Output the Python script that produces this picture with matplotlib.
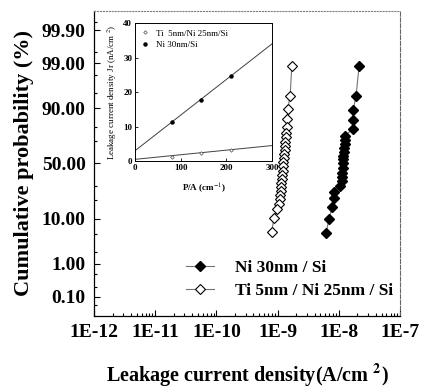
import numpy as np
import matplotlib
matplotlib.use('Agg')
import matplotlib.pyplot as plt
from statistics import NormalDist

plt.rcParams['font.family'] = 'Liberation Serif'
plt.rcParams['mathtext.fontset'] = 'stix'

# main plot data
ni_j = [2.14e-8, 1.91e-8, 1.71e-8, 1.71e-8, 1.70e-8, 1.27e-8, 1.26e-8, 1.25e-8,
        1.23e-8, 1.21e-8, 1.19e-8, 1.18e-8, 1.17e-8, 1.16e-8, 1.14e-8, 1.13e-8,
        1.12e-8, 1.05e-8, 8.35e-9, 8.3e-9, 7.75e-9, 6.92e-9, 6.18e-9]
ni_p = [98.8, 94.2, 89.2, 84.1, 79.0, 73.9, 70.8, 67.4, 63.9, 60.3, 56.6, 53.8,
        50.0, 45.3, 41.5, 37.9, 34.3, 30.1, 25.3, 21.0, 15.4, 10.0, 5.3]

ti_j = [1.70e-9, 1.60e-9, 1.46e-9, 1.43e-9, 1.41e-9, 1.37e-9, 1.36e-9, 1.34e-9,
        1.32e-9, 1.31e-9, 1.29e-9, 1.26e-9, 1.24e-9, 1.22e-9, 1.21e-9, 1.19e-9,
        1.18e-9, 1.15e-9, 1.14e-9, 1.12e-9, 1.09e-9, 1.08e-9, 1.04e-9, 9.8e-10,
        8.7e-10, 8.0e-10]
ti_p = [98.8, 94.2, 89.6, 84.6, 80.4, 76.2, 73.2, 69.1, 65.7, 62.1, 58.5, 54.7,
        51.0, 47.2, 43.4, 39.7, 36.1, 32.6, 29.2, 26.1, 23.1, 20.3, 17.1, 14.3,
        10.4, 5.6]

prob_ticks = [0.10, 1.00, 10.00, 50.00, 90.00, 99.00, 99.90]
prob_minor = [0.05, 0.2, 0.5, 2, 5, 20, 30, 70, 80, 95, 98, 99.5, 99.95]
x_ticks = [1e-12, 1e-11, 1e-10, 1e-9, 1e-8, 1e-7]
x_ticklabels = ['1E-12', '1E-11', '1E-10', '1E-9', '1E-8', '1E-7']

# inset data
pa = [80, 145, 210]
ni_jr = [11.2, 17.8, 24.6]
ti_jr = [1.3, 2.3, 3.2]
fit_pa = [0, 300]
ni_fit = [3.0, 34.0]
ti_fit = [0.5, 4.5]

nd = NormalDist()
inv_cdf = np.vectorize(lambda p: nd.inv_cdf(min(max(p / 100.0, 1e-9), 1 - 1e-9)))
cdf = np.vectorize(lambda z: 100.0 * nd.cdf(z))

fig = plt.figure(figsize=(4.22, 3.90), dpi=100)
ax = fig.add_axes([0.223, 0.190, 0.725, 0.782])
ax.set_xscale('log')
ax.set_yscale('function', functions=(inv_cdf, cdf))

ax.plot(ni_j, ni_p, color='0.45', lw=0.8, marker='D', ms=4.8, mfc='black',
        mec='black', label='Ni 30nm / Si')
ax.plot(ti_j, ti_p, color='0.45', lw=0.8, marker='D', ms=4.8, mfc='white',
        mec='black', mew=0.8, label='Ti 5nm / Ni 25nm / Si')

ax.set_xlim(1e-12, 1e-7)
ax.set_ylim(0.02, 99.98)
ax.set_yticks(prob_ticks)
ax.set_yticklabels(['%.2f' % p for p in prob_ticks])
ax.set_yticks(prob_minor, minor=True)
ax.set_xticks(x_ticks)
ax.set_xticklabels(x_ticklabels)
ax.tick_params(which='both', direction='in', labelsize=14, width=0.8)
ax.tick_params(which='major', length=4, pad=6)
ax.tick_params(which='minor', length=2.5)
ax.tick_params(axis='y', which='minor', labelleft=False)
for lab in ax.get_xticklabels() + ax.get_yticklabels():
    lab.set_fontweight('bold')

ax.spines['top'].set_linestyle(':')
ax.spines['top'].set_color('0.5')
ax.spines['right'].set_linestyle('--')
ax.spines['right'].set_color('0.4')
for s in ['left', 'bottom']:
    ax.spines[s].set_linewidth(0.9)

ax.set_ylabel('Cumulative probability (%)', fontsize=16, fontweight='bold', labelpad=6)
ax.set_xlabel(r'Leakage current density(A/cm $\mathbf{^2}$)', fontsize=14.5,
              fontweight='bold', labelpad=15)

ax.legend(loc='center left', bbox_to_anchor=(0.278, 0.12), frameon=False,
          prop={'weight': 'bold', 'size': 12.5}, numpoints=1,
          handlelength=1.6, handletextpad=1.2, labelspacing=0.4, borderaxespad=0)

# inset
ins = fig.add_axes([0.320, 0.587, 0.325, 0.354])
ins.plot(fit_pa, ni_fit, color='0.25', lw=0.7)
ins.plot(fit_pa, ti_fit, color='0.25', lw=0.7)
ins.plot(pa, ti_jr, ls='none', marker='D', ms=1.8, mfc='white', mec='0.3',
         mew=0.5, label='Ti  5nm/Ni 25nm/Si')
ins.plot(pa, ni_jr, ls='none', marker='o', ms=2.2, color='black',
         label='Ni 30nm/Si')
ins.set_xlim(0, 300)
ins.set_ylim(0, 40)
ins.set_xticks([0, 100, 200, 300])
ins.set_yticks([0, 10, 20, 30, 40])
ins.tick_params(direction='in', labelsize=6.5, length=2.5, width=0.6, pad=2)
for lab in ins.get_xticklabels() + ins.get_yticklabels():
    lab.set_fontweight('bold')
for s in ins.spines.values():
    s.set_linewidth(0.7)
ins.set_xlabel(r'P/A (cm$^{-1}$)', fontsize=6.5, fontweight='bold', labelpad=7)
ins.set_ylabel(r'Leakage current density Jr (nA/cm $^{2}$)', fontsize=6.5,
               labelpad=3)
ins.legend(loc='upper left', frameon=False, fontsize=6.5, numpoints=1,
           handlelength=0.8, handletextpad=0.8, labelspacing=0.3,
           borderaxespad=0.3)

fig.savefig('out.png', dpi=100)
